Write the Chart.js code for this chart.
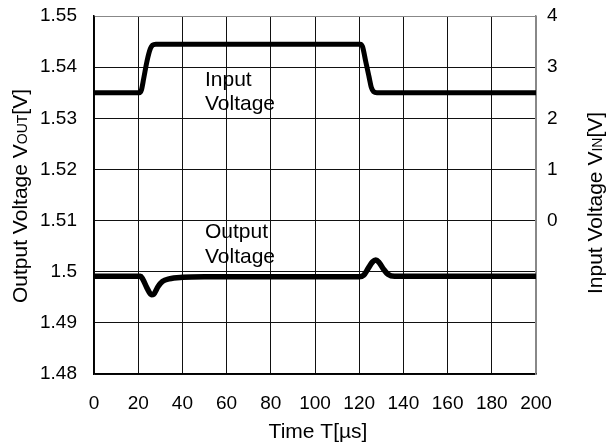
<!DOCTYPE html>
<html>
<head>
<meta charset="utf-8">
<script src="https://cdn.jsdelivr.net/npm/chart.js@4.4.0/dist/chart.umd.min.js"></script>
<style>
  html, body { margin: 0; padding: 0; background: #fff; }
  #wrap { width: 609px; height: 446px; position: relative; }
</style>
</head>
<body>
<div id="wrap"><canvas id="scope"></canvas></div>
<script>
// Input voltage trace (right axis, V)
const inputTime = [0, 20.5, 21.5, 22.5, 24, 25.5, 26.5, 28, 120.5, 121.5, 123, 124.5, 125.5, 126.5, 128, 200];
const inputVolts = [2.5, 2.5, 2.56, 2.78, 3.12, 3.36, 3.43, 3.45, 3.45, 3.4, 3.1, 2.8, 2.6, 2.52, 2.5, 2.5];

// Output voltage trace (left axis, V)
const outputTime = [0, 21, 22, 24, 26, 27, 29, 31, 34, 40, 50, 120, 122, 124, 126, 127.5, 129, 131, 133, 136, 200];
const outputVolts = [1.4991, 1.4991, 1.4986, 1.4968, 1.4955, 1.4956, 1.4971, 1.4981, 1.4986, 1.4989, 1.499, 1.499, 1.4993, 1.5006, 1.5019, 1.5023, 1.5018, 1.5005, 1.4995, 1.4991, 1.4991];

const xTicks = [0, 20, 40, 60, 80, 100, 120, 140, 160, 180, 200];
const leftTicks = [1.48, 1.49, 1.5, 1.51, 1.52, 1.53, 1.54, 1.55];
const rightTicks = [0, 1, 2, 3, 4];

// In-plot trace labels: [time, left-axis value (baseline), text]
const traceLabels = [
    [50.2, 1.5363, 'Input'],
    [50.2, 1.5316, 'Voltage'],
    [50.2, 1.5066, 'Output'],
    [50.2, 1.5018, 'Voltage']
];

const FONT = "'Liberation Sans', Arial, sans-serif";

const toPoints = (xs, ys) => xs.map((x, i) => ({ x, y: ys[i] }));

// Axis titles (with small subscript parts) and trace labels
const titlesPlugin = {
    id: 'scopeTitles',
    afterDraw: (chart) => {
        const ctx = chart.ctx;
        const area = chart.chartArea;

        const drawParts = (parts, cx, cy, rot) => {
            ctx.save();
            ctx.translate(cx, cy);
            ctx.rotate(rot);
            let total = 0;
            parts.forEach(p => {
                ctx.font = `${p.size}px ${FONT}`;
                total += ctx.measureText(p.text).width;
            });
            let x = -total / 2;
            ctx.textBaseline = 'alphabetic';
            ctx.fillStyle = '#000';
            parts.forEach(p => {
                ctx.font = `${p.size}px ${FONT}`;
                ctx.fillText(p.text, x, 0);
                x += ctx.measureText(p.text).width;
            });
            ctx.restore();
        };

        drawParts([
            { text: 'Output Voltage V', size: 21 },
            { text: 'OUT', size: 14 },
            { text: '[V]', size: 21 }
        ], 27, 196, -Math.PI / 2);

        drawParts([
            { text: 'Input Voltage V', size: 21 },
            { text: 'IN', size: 14 },
            { text: '[V]', size: 21 }
        ], 602, 203, -Math.PI / 2);

        drawParts([{ text: 'Time T[µs]', size: 21 }], (area.left + area.right) / 2 + 3, 438, 0);

        ctx.save();
        ctx.font = `21px ${FONT}`;
        ctx.fillStyle = '#000';
        ctx.textBaseline = 'alphabetic';
        const xs = chart.scales.x;
        const ys = chart.scales.y;
        traceLabels.forEach(([t, v, txt]) => {
            ctx.fillText(txt, xs.getPixelForValue(t), ys.getPixelForValue(v));
        });
        ctx.restore();
    }
};

const noVerticalPad = (axis, width) => {
    axis.width = width;
    axis.paddingTop = 0;
    axis.paddingBottom = 0;
};

new Chart(document.getElementById('scope'), {
    type: 'line',
    data: {
        datasets: [{
            label: 'Input Voltage',
            data: toPoints(inputTime, inputVolts),
            yAxisID: 'y2',
            borderColor: '#000',
            borderWidth: 5,
            pointRadius: 0,
            cubicInterpolationMode: 'monotone',
            fill: false
        }, {
            label: 'Output Voltage',
            data: toPoints(outputTime, outputVolts),
            yAxisID: 'y',
            borderColor: '#000',
            borderWidth: 5.5,
            pointRadius: 0,
            cubicInterpolationMode: 'monotone',
            fill: false
        }]
    },
    options: {
        responsive: true,
        maintainAspectRatio: false,
        animation: false,
        layout: { padding: { top: 16 } },
        plugins: {
            legend: { display: false },
            tooltip: { enabled: false }
        },
        scales: {
            x: {
                type: 'linear',
                min: 0,
                max: 200,
                afterBuildTicks: (axis) => { axis.ticks = xTicks.map(v => ({ value: v })); },
                afterFit: (axis) => { axis.height = 72; },
                grid: {
                    color: (c) => c.tick && c.tick.value === 200 ? '#888' : '#111',
                    lineWidth: 1,
                    drawTicks: false
                },
                border: { color: '#000', width: 1.5 },
                ticks: { color: '#000', padding: 18, font: { family: FONT, size: 19 } }
            },
            y: {
                position: 'left',
                min: 1.48,
                max: 1.55,
                afterBuildTicks: (axis) => { axis.ticks = leftTicks.map(v => ({ value: v })); },
                afterFit: (axis) => noVerticalPad(axis, 94),
                grid: {
                    color: (c) => c.tick && c.tick.value > 1.549 ? '#888' : '#111',
                    lineWidth: 1,
                    drawTicks: false
                },
                border: { color: '#000', width: 1.5 },
                ticks: {
                    color: '#000',
                    padding: 17,
                    font: { family: FONT, size: 19 },
                    callback: (v) => String(parseFloat(v.toFixed(2)))
                }
            },
            y2: {
                position: 'right',
                min: -3,
                max: 4,
                afterBuildTicks: (axis) => { axis.ticks = rightTicks.map(v => ({ value: v })); },
                afterFit: (axis) => noVerticalPad(axis, 73),
                grid: { display: false, drawTicks: false },
                border: { color: '#888', width: 1.5 },
                ticks: { color: '#000', padding: 11, font: { family: FONT, size: 19 } }
            }
        }
    },
    plugins: [titlesPlugin]
});
</script>
</body>
</html>
